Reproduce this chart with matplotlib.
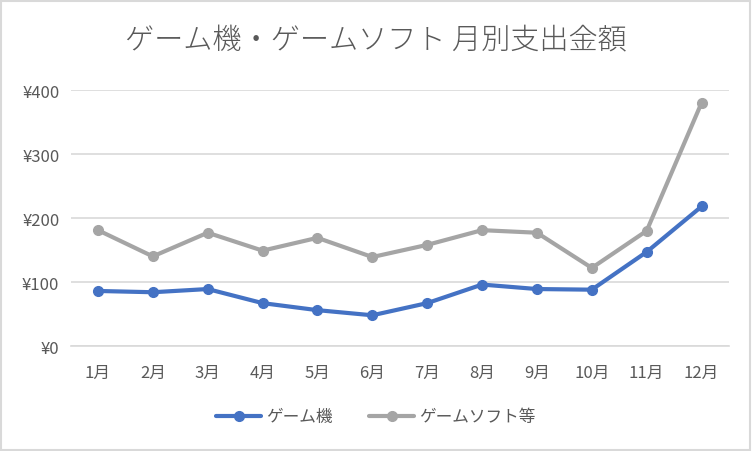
import matplotlib
matplotlib.use("Agg")
import matplotlib.pyplot as plt
from matplotlib.patches import Rectangle

plt.rcParams['font.family'] = ['Noto Sans CJK JP', 'DejaVu Sans']

months = ['1月', '2月', '3月', '4月', '5月', '6月', '7月', '8月', '9月', '10月', '11月', '12月']
game_console = [86, 84, 89, 67, 56, 48, 67, 96, 89, 88, 147, 218]
game_soft = [181, 140, 177, 149, 169, 139, 158, 181, 177, 122, 180, 380]
yticks = [0, 100, 200, 300, 400]
ytick_labels = ['¥0', '¥100', '¥200', '¥300', '¥400']

text_color = '#595959'
grid_color = '#D9D9D9'

fig = plt.figure(figsize=(7.52, 4.52), dpi=100)
ax = fig.add_axes([70.5 / 752, 1 - 347 / 452, (729 - 70.5) / 752, (347 - 91) / 452])

x = list(range(len(months)))
ax.plot(x, game_console, color='#4472C4', lw=3.0, marker='o', ms=7, label='ゲーム機', solid_capstyle='round', zorder=3)
ax.plot(x, game_soft, color='#A5A5A5', lw=3.0, marker='o', ms=7, label='ゲームソフト等', solid_capstyle='round', zorder=2)

ax.set_xlim(-0.5, len(months) - 0.5)
ax.set_ylim(0, 400)
ax.set_yticks(yticks)
ax.set_yticklabels(ytick_labels)
ax.set_xticks(x)
ax.set_xticklabels(months)
ax.grid(axis='y', color=grid_color, lw=1.2)
ax.set_axisbelow(True)
for s in ['top', 'right', 'left']:
    ax.spines[s].set_visible(False)
ax.spines['bottom'].set_color(grid_color)
ax.spines['bottom'].set_linewidth(1.2)
ax.tick_params(axis='both', length=0, colors=text_color, labelsize=12)
ax.tick_params(axis='x', pad=13)
ax.tick_params(axis='y', pad=8)

fig.text(0.5, 1 - 41 / 452, 'ゲーム機・ゲームソフト 月別支出金額', ha='center', va='center',
         fontsize=21, color=text_color, fontweight='light')

leg = fig.legend(loc='center', bbox_to_anchor=(0.5, 1 - 418 / 452), ncol=2, frameon=False,
                 fontsize=12, labelcolor=text_color, handlelength=2.7, columnspacing=2.2, handletextpad=0.3)

fig.patches.append(Rectangle((1 / 752, 1 / 452), 1 - 3 / 752, 1 - 2.5 / 452,
                             transform=fig.transFigure, fill=False, edgecolor='#D9D9D9', lw=1.5))

fig.savefig('out.png', dpi=100, facecolor='white')
